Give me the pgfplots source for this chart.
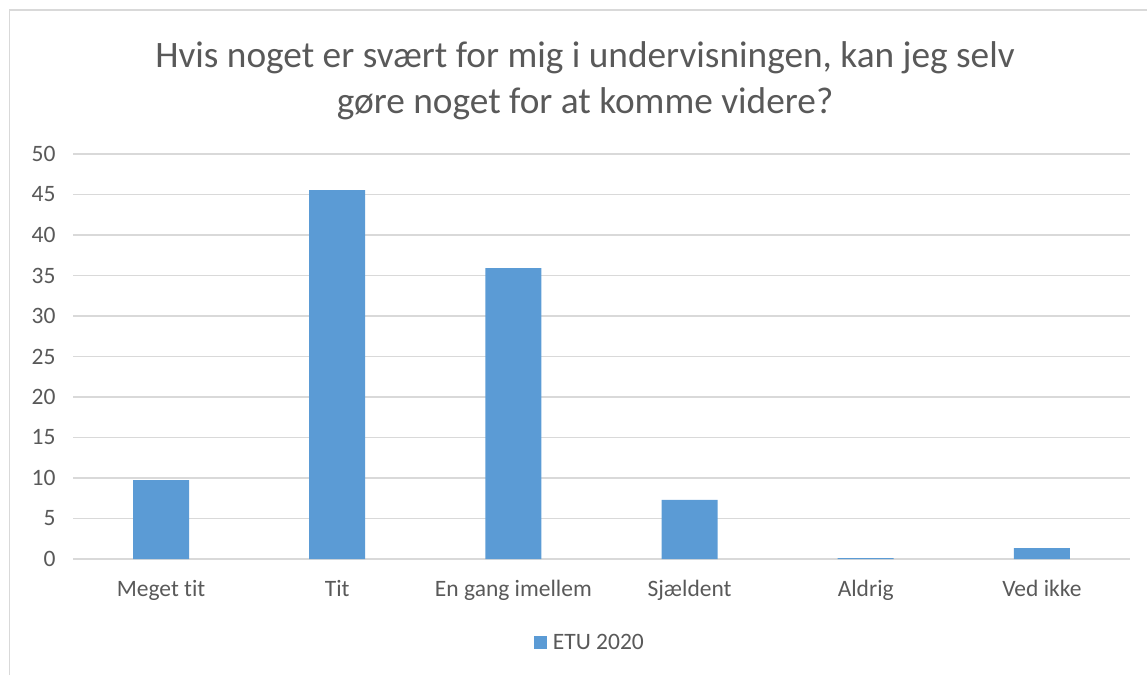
\documentclass[border=0pt]{standalone}
\usepackage{pgfplots}
\pgfplotsset{compat=1.18}
\usepackage{fontspec}
\setmainfont{Carlito}[Ligatures={NoCommon}]
\definecolor{barblue}{HTML}{5B9BD5}
\definecolor{gridgray}{HTML}{D9D9D9}
\definecolor{txtgray}{HTML}{595959}
\begin{document}
\begin{tikzpicture}[x=1pt,y=1pt]
\path[use as bounding box] (0,0) rectangle (1147,675);
\draw[gridgray, line width=1.5pt] (9.5,0) -- (9.5,665) -- (1147,665);
\node[align=center, text=txtgray, font=\fontsize{37.3}{46}\selectfont] at (585,594)
  {Hvis noget er svært for mig i undervisningen, kan jeg selv\\gøre noget for at komme videre?};
\begin{axis}[
  at={(73pt,116pt)}, anchor=south west,
  scale only axis, width=1057pt, height=405pt,
  xmin=-0.5, xmax=5.5, ymin=0, ymax=50,
  xtick=data,
  xticklabels={Meget tit, Tit, En gang imellem, Sjældent, Aldrig, Ved ikke},
  ytick={0,5,...,50},
  ymajorgrids, grid style={gridgray, line width=1.2pt},
  axis line style={draw=none},
  major tick length=0pt,
  tick label style={text=txtgray, font=\fontsize{23.5}{28}\selectfont},
  /pgf/number format/assume math mode=true,
  yticklabel style={xshift=-14pt},
  xticklabel style={yshift=-18pt},
  legend style={at={(axis description cs:0.489,-0.207)}, anchor=center, draw=none,
    font=\fontsize{23.5}{28}\selectfont, text=txtgray},
  legend image code/.code={\fill[barblue] (0pt,-6.5pt) rectangle (13pt,6.5pt);},
]
\draw[gridgray, line width=1.2pt] (axis cs:-0.5,0) -- (axis cs:5.5,0);
\addplot[ybar, bar width=56pt, fill=barblue, draw=none] coordinates {
  (0,9.75) (1,45.55) (2,35.9) (3,7.3) (4,0.1) (5,1.35)
};
\addlegendentry{\hspace{4pt}ETU 2020}
\end{axis}
\end{tikzpicture}
\end{document}
